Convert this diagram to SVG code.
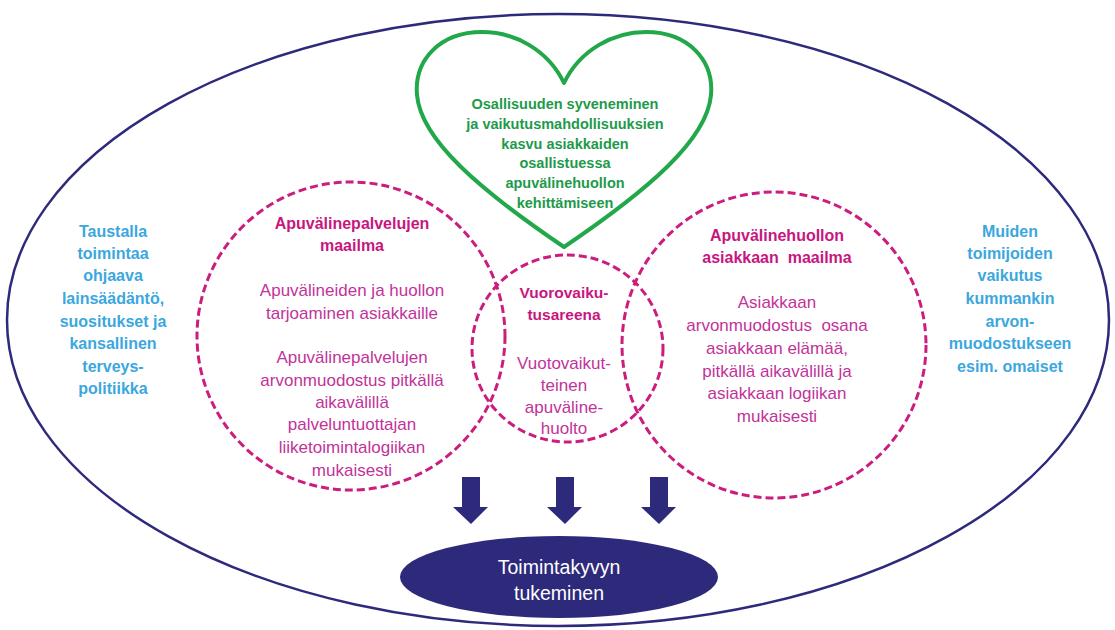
<svg xmlns="http://www.w3.org/2000/svg" width="1115" height="630" viewBox="0 0 1115 630">
<defs>
<style>
.outer{fill:#ffffff;stroke:#2e2a7b;stroke-width:2.5}
.dash{fill:none;stroke:#cc1d7e;stroke-width:3;stroke-dasharray:8 4}
.heart{fill:none;stroke:#22a84b;stroke-width:4;stroke-linejoin:round}
.arrow{fill:#2e2a7b}
.t{font-family:"Liberation Sans",Arial,sans-serif;text-anchor:middle}
.g{fill:#1d9a4a;font-weight:bold;font-size:14.5px}
.mh{fill:#c8167f;font-weight:bold;font-size:16px}
.mb{fill:#c2339a;font-size:17px}
.b{fill:#3ba7de;font-weight:bold;font-size:16px}
.w{fill:#ffffff;font-size:19.5px}
</style>
</defs>
<rect width="1115" height="630" fill="#ffffff"/>
<g id="outer">
<ellipse class="outer" cx="558" cy="320" rx="551" ry="306"/>
</g>
<g id="left-text">
<text class="t b"><tspan x="113" y="237">Taustalla</tspan><tspan x="113" y="259">toimintaa</tspan><tspan x="113" y="281">ohjaava</tspan><tspan x="113" y="304">lainsäädäntö,</tspan><tspan x="113" y="327">suositukset ja</tspan><tspan x="113" y="349">kansallinen</tspan><tspan x="113" y="372">terveys-</tspan><tspan x="113" y="394">politiikka</tspan></text>
</g>
<g id="right-text">
<text class="t b"><tspan x="1010" y="237">Muiden</tspan><tspan x="1010" y="259">toimijoiden</tspan><tspan x="1010" y="281">vaikutus</tspan><tspan x="1010" y="304">kummankin</tspan><tspan x="1010" y="327">arvon-</tspan><tspan x="1010" y="349">muodostukseen</tspan><tspan x="1010" y="372">esim. omaiset</tspan></text>
</g>
<g id="left-circle">
<ellipse class="dash" cx="351" cy="336" rx="154" ry="154"/>
<text class="t mh"><tspan x="352" y="229">Apuvälinepalvelujen</tspan><tspan x="352" y="251">maailma</tspan></text>
<text class="t mb"><tspan x="352" y="296">Apuvälineiden ja huollon</tspan><tspan x="352" y="319">tarjoaminen asiakkaille</tspan><tspan x="352" y="363">Apuvälinepalvelujen</tspan><tspan x="352" y="386">arvonmuodostus pitkällä</tspan><tspan x="352" y="408">aikavälillä</tspan><tspan x="352" y="430">palveluntuottajan</tspan><tspan x="352" y="453">liiketoimintalogiikan</tspan><tspan x="352" y="476">mukaisesti</tspan></text>
</g>
<g id="right-circle">
<ellipse class="dash" cx="774" cy="345" rx="152" ry="153"/>
<text class="t mh" xml:space="preserve"><tspan x="777" y="241">Apuvälinehuollon</tspan><tspan x="777" y="263">asiakkaan  maailma</tspan></text>
<text class="t mb" xml:space="preserve"><tspan x="777" y="308">Asiakkaan</tspan><tspan x="777" y="331">arvonmuodostus  osana</tspan><tspan x="777" y="354">asiakkaan elämää,</tspan><tspan x="777" y="377">pitkällä aikavälillä ja</tspan><tspan x="777" y="399">asiakkaan logiikan</tspan><tspan x="777" y="422">mukaisesti</tspan></text>
</g>
<g id="center-circle">
<ellipse class="dash" cx="567.5" cy="348.5" rx="95.5" ry="93.5"/>
<text class="t mh" style="font-size:15.5px"><tspan x="564" y="298">Vuorovaiku-</tspan><tspan x="564" y="320">tusareena</tspan></text>
<text class="t mb"><tspan x="564" y="369">Vuotovaikut-</tspan><tspan x="564" y="391">teinen</tspan><tspan x="564" y="413">apuväline-</tspan><tspan x="564" y="434">huolto</tspan></text>
</g>
<g id="heart">
<path class="heart" d="M564,83 C548,50 515,32 482,32 C440,32 414,60 417,95 C421,140 480,190 564,247 C648,190 707,140 711,95 C714,60 688,32 646,32 C613,32 580,50 564,83 Z"/>
<text class="t g"><tspan x="565" y="109">Osallisuuden syveneminen</tspan><tspan x="565" y="129">ja vaikutusmahdollisuuksien</tspan><tspan x="565" y="149">kasvu asiakkaiden</tspan><tspan x="565" y="168">osallistuessa</tspan><tspan x="565" y="188">apuvälinehuollon</tspan><tspan x="565" y="208">kehittämiseen</tspan></text>
</g>
<g id="connectors">
<path class="arrow" d="M462,477 H480 V507 H488 L471,524 L453,507 H462 Z"/>
<path class="arrow" d="M556,477 H574 V507 H582 L565,524 L547,507 H556 Z"/>
<path class="arrow" d="M650,477 H668 V507 H676 L659,524 L641,507 H650 Z"/>
</g>
<g id="result">
<ellipse cx="559" cy="577" rx="159" ry="41" fill="#2e2a7b"/>
<text class="t w"><tspan x="559" y="574">Toimintakyvyn</tspan><tspan x="559" y="600">tukeminen</tspan></text>
</g>
</svg>
